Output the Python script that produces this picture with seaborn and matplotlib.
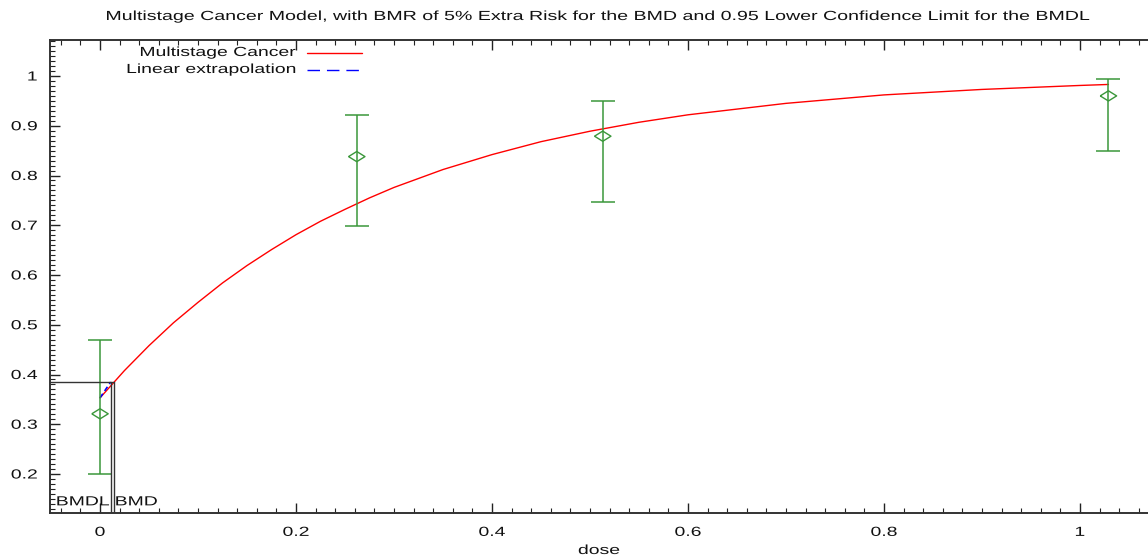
import numpy as np
import pandas as pd
import matplotlib
matplotlib.use("Agg")
import matplotlib.pyplot as plt
from matplotlib.ticker import MultipleLocator, FuncFormatter
from matplotlib.patheffects import AbstractPathEffect
from matplotlib.transforms import Affine2D
import seaborn as sns

# ---- data ----
dose = [0.0, 0.262, 0.513, 1.029]
resp = [0.321, 0.838, 0.879, 0.960]
ci_low = [0.200, 0.698, 0.746, 0.849]
ci_high = [0.469, 0.922, 0.950, 0.994]

curve_dose = [0.0, 0.01, 0.025, 0.05, 0.075, 0.10, 0.125, 0.15, 0.175, 0.20, 0.225, 0.25,
              0.275, 0.30, 0.35, 0.40, 0.45, 0.50, 0.55, 0.60, 0.70, 0.80, 0.90, 1.00, 1.029]
curve_resp = [0.353, 0.375, 0.408, 0.458, 0.504, 0.545, 0.584, 0.619, 0.651, 0.681, 0.708,
              0.732, 0.755, 0.776, 0.812, 0.842, 0.868, 0.889, 0.907, 0.922, 0.945, 0.962,
              0.973, 0.981, 0.983]

bmdl = 0.0109
bmd = 0.0143
bmr_resp = 0.385
extrap_dose = [0.0, bmdl]
extrap_resp = [0.353, bmr_resp]

x_ticks = [0, 0.2, 0.4, 0.6, 0.8, 1.0]
y_ticks = [0.2, 0.3, 0.4, 0.5, 0.6, 0.7, 0.8, 0.9, 1.0]

title = "Multistage Cancer Model, with BMR of 5% Extra Risk for the BMD and 0.95 Lower Confidence Limit for the BMDL"


class Stretch(AbstractPathEffect):
    """Horizontally stretch text glyphs about an anchor (0 left, 0.5 centre, 1 right)."""
    def __init__(self, sx=1.45, f=0.5):
        super().__init__()
        self.sx = sx
        self.f = f

    def draw_path(self, renderer, gc, tpath, affine, rgbFace=None):
        m = affine.get_matrix().copy()
        ext = tpath.get_extents()
        a, tx = m[0, 0], m[0, 2]
        xa = tx + a * (ext.x0 + self.f * (ext.x1 - ext.x0))
        m2 = m.copy()
        m2[0, 0] = a * self.sx
        m2[0, 1] = m[0, 1] * self.sx
        m2[0, 2] = self.sx * tx + (1 - self.sx) * xa
        renderer.draw_path(gc, tpath, Affine2D(m2), rgbFace)


SX = 1.47
FS = 9.5
TXT = "#111111"
DASH = (0, (9, 5))

sns.set_theme(style="white")
plt.rcParams["font.family"] = ["Liberation Sans", "DejaVu Sans"]

W, H = 1148, 558
fig = plt.figure(figsize=(W / 100, H / 100), dpi=100)
L, R, T, B = 50, 1148, 40, 513
ax = fig.add_axes([L / W, 1 - B / H, (R - L) / W, (B - T) / H])

xmin = -50 / 980
xmax = (1148 - 100) / 980
ax.set_xlim(xmin, xmax)
ax.set_ylim(0.2 - 39 / 497.5, 1 + 36 / 497.5)

curve_df = pd.DataFrame({"dose": curve_dose, "resp": curve_resp})
sns.lineplot(data=curve_df, x="dose", y="resp", ax=ax, color="#ff0000", lw=1.0,
             sort=False, estimator=None)
ex_df = pd.DataFrame({"dose": extrap_dose, "resp": extrap_resp})
sns.lineplot(data=ex_df, x="dose", y="resp", ax=ax, color="#0000ff", lw=1.2,
             estimator=None)
ax.lines[-1].set_linestyle((0, (3, 2)))

green = "#3a973a"
yerr = [np.array(resp) - np.array(ci_low), np.array(ci_high) - np.array(resp)]
diamond = [(-1, 0), (0, 0.62), (1, 0), (0, -0.62), (-1, 0)]
ax.errorbar(dose, resp, yerr=yerr, fmt="none", ecolor=green, elinewidth=1.1,
            capsize=8.5, capthick=1.1)
sns.scatterplot(x=dose, y=resp, ax=ax, marker=diamond, s=140, facecolor="none",
                edgecolor=green, linewidth=1.0, zorder=5)

# BMD / BMDL lines
ax.plot([xmin, bmd], [bmr_resp, bmr_resp], color="#333333", lw=1.0)
ax.plot([bmdl, bmdl], [0, bmr_resp], color="#333333", lw=1.0)
ax.plot([bmd, bmd], [0, bmr_resp], color="#333333", lw=1.0)
ax.text(bmdl - 0.0009, 0.143, "BMDL", ha="right", va="center", fontsize=FS, color=TXT,
        path_effects=[Stretch(SX, 1.0)])
ax.text(bmd + 0.0012, 0.143, "BMD", ha="left", va="center", fontsize=FS, color=TXT,
        path_effects=[Stretch(SX, 0.0)])

# legend (gnuplot style: text then sample)
tx = (296 - L) / (R - L)
x0, x1 = (307 - L) / (R - L), (362 - L) / (R - L)
for yy, lab, col, ls in [((B - 53) / (B - T), "Multistage Cancer", "#ff0000", "-"),
                         ((B - 70) / (B - T), "Linear extrapolation", "#0000ff", DASH)]:
    ax.text(tx, yy, lab, transform=ax.transAxes, ha="right", va="center", fontsize=FS,
            color=TXT, path_effects=[Stretch(SX, 1.0)])
    ax.plot([x0, x1], [yy, yy], transform=ax.transAxes, color=col, lw=1.0, linestyle=ls)

# axes styling
ax.set_xticks(x_ticks)
ax.set_yticks(y_ticks)
ax.xaxis.set_minor_locator(MultipleLocator(0.02))
ax.yaxis.set_minor_locator(MultipleLocator(0.01))
fmt = FuncFormatter(lambda v, p: ("%g" % round(v, 6)))
ax.xaxis.set_major_formatter(fmt)
ax.yaxis.set_major_formatter(fmt)
ax.tick_params(which="both", direction="in", top=True, right=False, bottom=True, left=True,
               color="#222222", labelsize=FS, labelcolor=TXT)
ax.tick_params(which="major", length=7, width=1.0, pad=9)
ax.tick_params(axis="x", which="major", pad=10)
ax.tick_params(which="minor", length=3.5, width=0.8)
for s in ["left", "bottom", "top"]:
    ax.spines[s].set_color("#333333")
    ax.spines[s].set_linewidth(1.4)
ax.spines["right"].set_visible(False)

ax.set_xlabel("dose", fontsize=FS, color=TXT, va="center",
              path_effects=[Stretch(SX, 0.5)])
ax.xaxis.set_label_coords(0.5, -(551 - B) / (B - T))
ax.set_ylabel("")
ax.set_title(title, fontsize=FS, color=TXT, y=1 + (T - 17) / (B - T), va="center", pad=0,
             path_effects=[Stretch(1.485, 0.5)])

fig.canvas.draw()
for lbl in ax.get_xticklabels():
    lbl.set_path_effects([Stretch(SX, 0.5)])
for lbl in ax.get_yticklabels():
    lbl.set_path_effects([Stretch(SX, 1.0)])

fig.savefig("out.png", dpi=100)
